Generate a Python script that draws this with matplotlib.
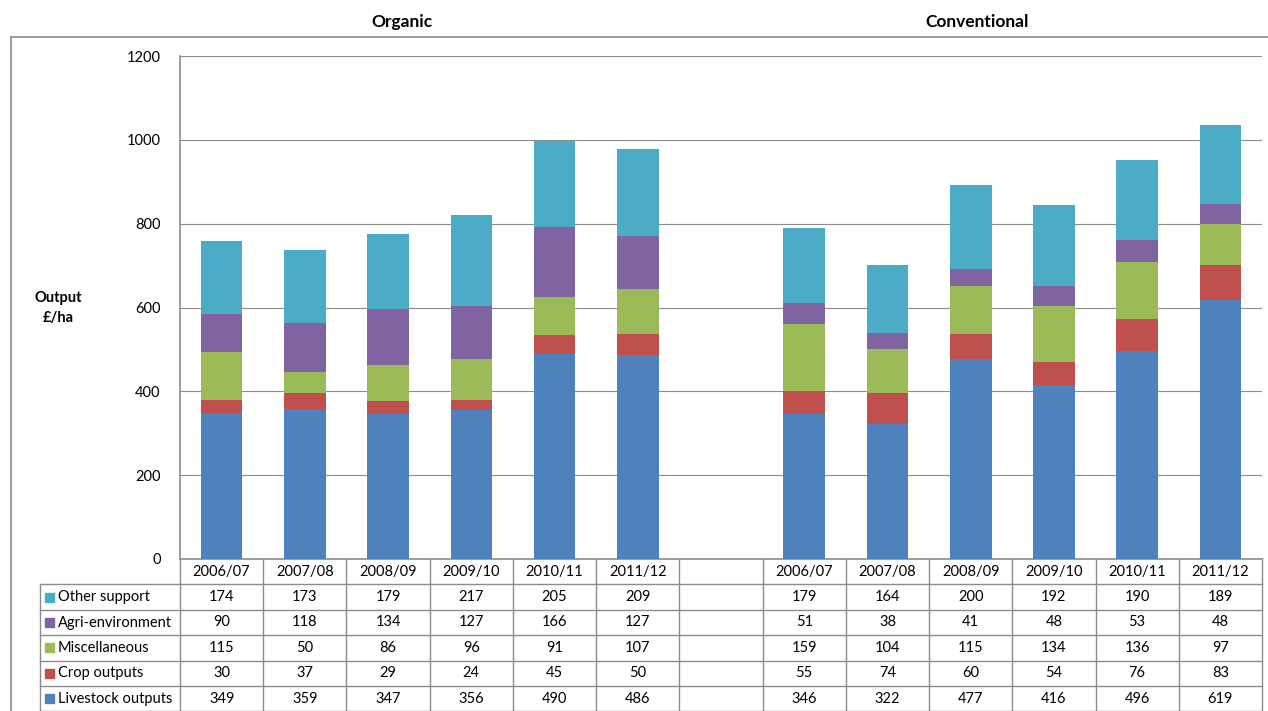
import matplotlib
matplotlib.use("Agg")
import matplotlib.pyplot as plt
from matplotlib.transforms import blended_transform_factory
from matplotlib.patches import Rectangle

plt.rcParams['font.family'] = ['Lato', 'DejaVu Sans']

years = ["2006/07", "2007/08", "2008/09", "2009/10", "2010/11", "2011/12"]
groups = ["Organic", "Conventional"]
series_names = ["Livestock outputs", "Crop outputs", "Miscellaneous", "Agri-environment", "Other support"]
colors = ["#4F81BD", "#C0504D", "#9BBB59", "#8064A2", "#4BACC6"]

organic_livestock = [349, 359, 347, 356, 490, 486]
organic_crop = [30, 37, 29, 24, 45, 50]
organic_misc = [115, 50, 86, 96, 91, 107]
organic_agri = [90, 118, 134, 127, 166, 127]
organic_other = [174, 173, 179, 217, 205, 209]

conv_livestock = [346, 322, 477, 416, 496, 619]
conv_crop = [55, 74, 60, 54, 76, 83]
conv_misc = [159, 104, 115, 134, 136, 97]
conv_agri = [51, 38, 41, 48, 53, 48]
conv_other = [179, 164, 200, 192, 190, 189]

organic = [organic_livestock, organic_crop, organic_misc, organic_agri, organic_other]
conventional = [conv_livestock, conv_crop, conv_misc, conv_agri, conv_other]

W, H = 1268, 711
fig = plt.figure(figsize=(W / 100, H / 100), dpi=100)
fig.patch.set_facecolor("white")

L, R, T, B = 180, 1262, 56, 559
ax = fig.add_axes([L / W, 1 - B / H, (R - L) / W, (B - T) / H])

n = len(years)
x_org = list(range(n))
x_conv = [i + n + 1 for i in range(n)]
FS = 10.5

for xs, data in ((x_org, organic), (x_conv, conventional)):
    bottom = [0] * n
    for vals, c in zip(data, colors):
        ax.bar(xs, vals, width=0.5, bottom=bottom, color=c, edgecolor='none', zorder=3)
        bottom = [b + v for b, v in zip(bottom, vals)]

ax.set_xlim(-0.5, 2 * n + 0.5)
ax.set_ylim(0, 1200)
ax.set_yticks(range(0, 1201, 200))
ax.grid(axis='y', color='#8C8C8C', linewidth=0.8, zorder=0)
ax.set_axisbelow(True)
for s in ('top', 'right'):
    ax.spines[s].set_visible(False)
for s in ('left', 'bottom'):
    ax.spines[s].set_color('#8C8C8C')
    ax.spines[s].set_linewidth(1.2)
ax.set_xticks([])
ax.tick_params(axis='y', length=0, pad=14, labelsize=FS)

# overlay axes in pixel coordinates
ov2 = fig.add_axes([0, 0, 1, 1], zorder=5)
ov2.set_xlim(0, W)
ov2.set_ylim(H, 0)
ov2.axis('off')
ov2.patch.set_alpha(0)

# outer frame
ov2.plot([11, W], [37, 37], color='#8C8C8C', lw=1.2)
ov2.plot([11, 11], [37, H], color='#8C8C8C', lw=1.2)

tr = blended_transform_factory(ax.transData, ov2.transData)

# titles
ov2.text(402, 22, groups[0], ha='center', va='center', fontsize=12.5, fontweight='bold')
ov2.text(977, 22, groups[1], ha='center', va='center', fontsize=12.5, fontweight='bold')

# y label
ov2.text(58, 308, "Output\n£/ha", ha='center', va='center', fontsize=FS, fontweight='bold',
         linespacing=1.5)

# table
row_h = 25.4
hdr_top = B
rows_top = B + row_h
line_c = '#8C8C8C'
lw = 1.0
n_slots = 2 * n + 1
ov2.plot([L, R], [rows_top, rows_top], color=line_c, lw=lw)
for k in range(5):
    y = rows_top + (k + 1) * row_h
    ov2.plot([40, R], [y, y], color=line_c, lw=lw)
ov2.plot([40, L], [rows_top, rows_top], color=line_c, lw=lw)
ov2.plot([40, 40], [rows_top, H], color=line_c, lw=lw)
for s in range(n_slots + 1):
    xb = s - 0.5
    ax.plot([xb, xb], [hdr_top, H], transform=tr, color=line_c, lw=lw, clip_on=False)

for xs in (x_org, x_conv):
    for xi, yr in zip(xs, years):
        ax.text(xi, hdr_top + row_h / 2, yr, transform=tr, ha='center', va='center', fontsize=FS)

for r, idx in enumerate(reversed(range(len(series_names)))):
    yc = rows_top + r * row_h + row_h / 2
    ov2.add_patch(Rectangle((45, yc - 4.5), 9, 9, color=colors[idx]))
    ov2.text(58, yc, series_names[idx], ha='left', va='center', fontsize=FS)
    for xs, data in ((x_org, organic), (x_conv, conventional)):
        for xi, v in zip(xs, data[idx]):
            ax.text(xi, yc, str(v), transform=tr, ha='center', va='center', fontsize=FS)

fig.savefig("out.png", dpi=100, facecolor='white')
